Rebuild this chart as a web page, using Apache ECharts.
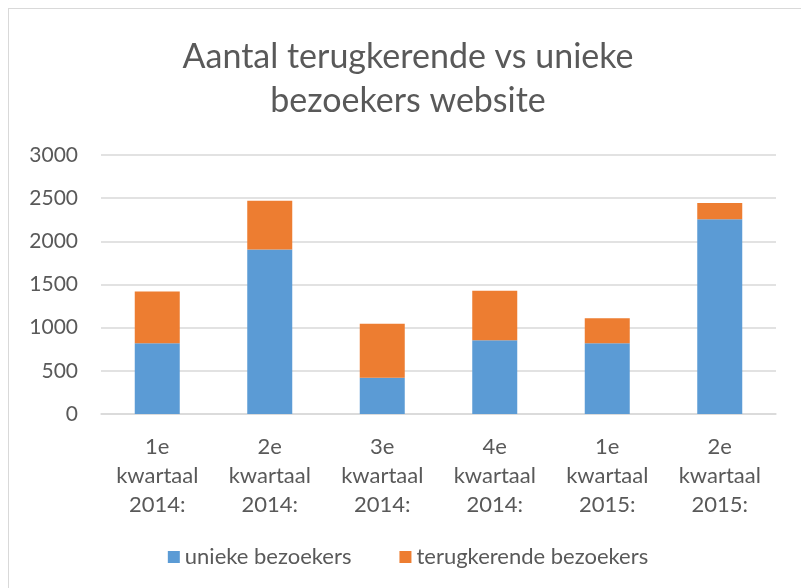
<!DOCTYPE html>
<html>
<head>
<meta charset="utf-8">
<script src="https://cdn.jsdelivr.net/npm/echarts@6/dist/echarts.min.js"></script>
<style>
  html, body { margin: 0; padding: 0; background: #fff; }
  #main {
    position: absolute; left: 8px; top: 8px;
    width: 800px; height: 590px;
    border: 1px solid #d9d9d9; box-sizing: border-box;
  }
</style>
</head>
<body>
<div id="main"></div>
<script>
// kwartalen
var categories = ['1e\nkwartaal\n2014:', '2e\nkwartaal\n2014:', '3e\nkwartaal\n2014:', '4e\nkwartaal\n2014:', '1e\nkwartaal\n2015:', '2e\nkwartaal\n2015:'];
var unieke = [820, 1905, 419, 854, 820, 2255];
var terugkerende = [600, 566, 627, 573, 288, 188];
var yTicks = [0, 500, 1000, 1500, 2000, 2500, 3000];

var txt = '#595959';
var font = 'Lato, "Open Sans", sans-serif';

var chart = echarts.init(document.getElementById('main'));
var option = {
  animation: false,
  title: {
    text: 'Aantal terugkerende vs unieke\nbezoekers website',
    left: 'center',
    top: 21,
    textStyle: {
      color: txt,
      fontFamily: font,
      fontSize: 34,
      fontWeight: 'normal',
      lineHeight: 44
    }
  },
  legend: {
    top: 532,
    left: 'center',
    itemWidth: 12,
    itemHeight: 12,
    itemGap: 48,
    icon: 'rect',
    textStyle: { color: txt, fontFamily: font, fontSize: 22 },
    data: ['unieke bezoekers', 'terugkerende bezoekers']
  },
  grid: {
    left: 92,
    width: 675,
    top: 146,
    height: 259,
    containLabel: false
  },
  xAxis: {
    type: 'category',
    data: categories,
    axisLine: { lineStyle: { color: '#d9d9d9', width: 1.5 } },
    axisTick: { show: false },
    axisLabel: {
      color: txt,
      fontFamily: font,
      fontSize: 22,
      lineHeight: 29,
      margin: 18
    }
  },
  yAxis: {
    type: 'value',
    min: yTicks[0],
    max: yTicks[yTicks.length - 1],
    interval: 500,
    axisLine: { show: false },
    axisTick: { show: false },
    splitLine: { lineStyle: { color: '#d9d9d9', width: 1.5 } },
    axisLabel: {
      color: txt,
      fontFamily: font,
      fontSize: 21,
      margin: 23,
      formatter: function (v) { return String(v); }
    }
  },
  series: [
    {
      name: 'unieke bezoekers',
      type: 'bar',
      stack: 'totaal',
      data: unieke,
      barWidth: '40%',
      itemStyle: { color: '#5b9bd5' }
    },
    {
      name: 'terugkerende bezoekers',
      type: 'bar',
      stack: 'totaal',
      data: terugkerende,
      barWidth: '40%',
      itemStyle: { color: '#ed7d31' }
    }
  ]
};
chart.setOption(option);
</script>
</body>
</html>
